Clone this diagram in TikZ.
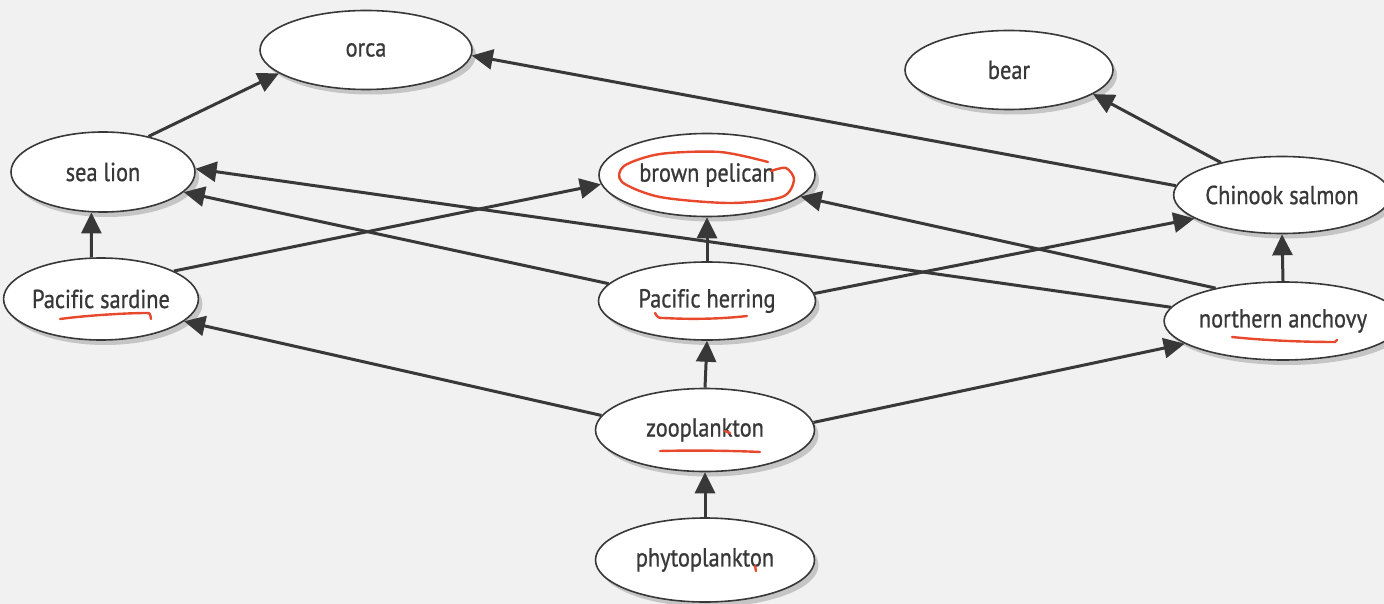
\documentclass[tikz,border=0pt]{standalone}
\usepackage{fontspec}
\setmainfont{PT Sans}[Ligatures=NoCommon]
\usetikzlibrary{shapes.geometric,arrows.meta,shadows}
\definecolor{ink}{HTML}{383838}
\definecolor{pen}{HTML}{E8482C}
\definecolor{paper}{HTML}{F1F1F1}
\begin{document}
\begin{tikzpicture}[x=1pt,y=-1pt,
  species/.style={ellipse, draw=ink, line width=1.6pt, fill=white, inner sep=0pt,
    font=\fontsize{26}{30}\selectfont\addfontfeature{FakeBold=0.8,FakeStretch=0.86}, text=ink,
    drop shadow={shadow xshift=4pt, shadow yshift=-5pt, opacity=0.18, fill=black}},
  eats/.style={draw=ink, line width=3pt, -{Triangle[length=21pt,width=20pt]}},
  redpen/.style={draw=pen, line width=2.4pt, line cap=round, line join=round}]
\fill[paper] (0,0) rectangle (1384,604);
\useasboundingbox (0,0) rectangle (1384,604);

% species
\node[species, minimum width=212pt, minimum height=79pt] (orca) at (366,50) {orca};
\node[species, minimum width=208pt, minimum height=79pt] (bear) at (1009,70) {bear};
\node[species, minimum width=184pt, minimum height=80pt] (sealion) at (103,172) {sea lion};
\node[species, minimum width=216pt, minimum height=83pt] (pelican) at (707,175) {brown pelican};
\node[species, minimum width=200pt, minimum height=77pt] (chinook) at (1282,195) {Chinook salmon};
\node[species, minimum width=184pt, minimum height=82pt] (sardine) at (101,299) {Pacific sardine};
\node[species, minimum width=217pt, minimum height=78pt] (herring) at (707,301) {Pacific herring};
\node[species, minimum width=200pt, minimum height=78pt] (anchovy) at (1283,321) {northern anchovy};
\node[species, minimum width=219pt, minimum height=83pt] (zoo) at (705,430) {zooplankton};
\node[species, minimum width=219pt, minimum height=84pt] (phyto) at (705,560) {phytoplankton};

% feeding relations
\draw[eats] (sealion.38) -- (orca.-165);
\draw[eats] (chinook.175) -- (orca.-3);
\draw[eats] (chinook.152) -- (bear.-16);
\draw[eats] (sardine.103) -- (sealion.-106);
\draw[eats] (sardine.21) -- (pelican.-175);
\draw[eats] (herring.170) -- (sealion.-14);
\draw[eats] (anchovy.173) -- (sealion.2);
\draw[eats] (anchovy.154) -- (pelican.-13);
\draw[eats] (herring.north) -- (pelican.south);
\draw[eats] (herring.4) -- (chinook.-165);
\draw[eats] (anchovy.north) -- (chinook.south);
\draw[eats] (zoo.172) -- (sardine.-15);
\draw[eats] (zoo.north) -- (herring.south);
\draw[eats] (zoo.4) -- (anchovy.-167);
\draw[eats] (phyto.north) -- (zoo.south);

% handwritten red marks
\draw[redpen] (60,319) .. controls (90,315) and (130,313) .. (146,313) .. controls (150,313) .. (151,319);
\draw[redpen] (655,313) .. controls (658,318) .. (664,318) .. controls (700,320) and (730,318) .. (747,316);
\draw[redpen] plot[smooth] coordinates {(768,162) (720,152) (660,154) (624,166) (622,182) (660,197) (730,203) (782,197) (794,180) (786,168) (771,171)};
\draw[redpen] (660,451) .. controls (700,450) and (740,451) .. (760,452);
\draw[redpen] (725,431) -- (730,433);
\draw[redpen] (755,566) -- (756,571);
\draw[redpen] (1232,337) .. controls (1270,341) and (1310,342) .. (1335,342) -- (1337,340);
\end{tikzpicture}
\end{document}
